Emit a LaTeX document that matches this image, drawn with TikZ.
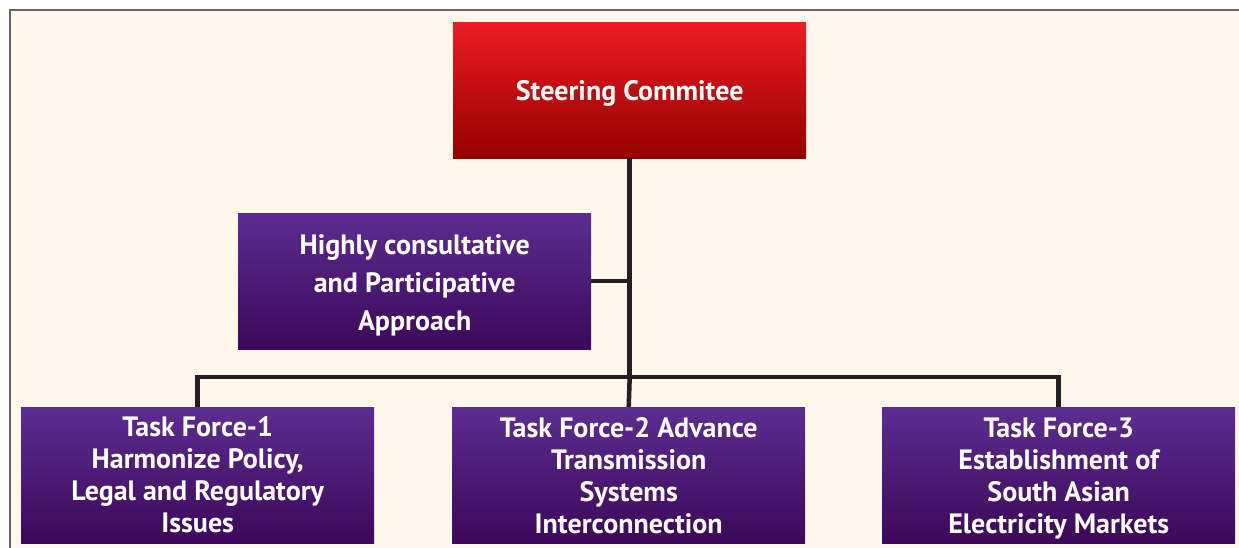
\documentclass[tikz,border=0pt]{standalone}
\usepackage{fontspec}
\setmainfont{PT Sans}
\definecolor{bgcream}{HTML}{FFF7EC}
\definecolor{framegray}{HTML}{666666}
\definecolor{redtop}{HTML}{EC1C24}
\definecolor{redbot}{HTML}{940000}
\definecolor{purtop}{HTML}{5C2D91}
\definecolor{purbot}{HTML}{3C0859}
\definecolor{linedark}{HTML}{231F20}
\newcommand{\strutH}[1]{\rule{0pt}{#1}}
\begin{document}
\begin{tikzpicture}[x=1pt,y=-1pt,
  box/.style={rectangle, minimum width=353pt, minimum height=136pt, inner sep=0pt,
    text=white, align=center, font=\fontsize{28}{32}\selectfont\bfseries, anchor=north west},
  redbox/.style={box, top color=redtop, bottom color=redbot},
  purbox/.style={box, top color=purtop, bottom color=purbot},
  conn/.style={draw=linedark, line width=4.5pt}]
\useasboundingbox (0,0) rectangle (1239,548);
\fill[white] (0,0) rectangle (1239,548);
\fill[bgcream] (10,10) rectangle (1239,548);
\draw[framegray, line width=2pt] (10,548) -- (10,10) -- (1239,10);
\node[redbox] (sc) at (453,22) {\strutH{27pt}Steering Commitee};
\node[purbox, font=\fontsize{28}{38}\selectfont\bfseries] (hc) at (238,213) {\strutH{29pt}Highly consultative\\and Participative\\Approach};
\node[purbox] (tf1) at (21,407) {Task Force-1\\Harmonize Policy,\\Legal and Regulatory\\Issues};
\node[purbox] (tf2) at (452,407) {Task Force-2 Advance\\Transmission\\Systems\\Interconnection};
\node[purbox] (tf3) at (882,407) {\strutH{27pt}Task Force-3\\Establishment of\\South Asian\\Electricity Markets};
\coordinate (j) at (sc.south |- 0,377);
\coordinate (jh) at (sc.south |- hc.east);
\draw[conn] (sc.south) -- (j);
\draw[conn] (hc.east) -- (jh);
\draw[conn] (tf1.north) -- (tf1.north |- j) -- (tf3.north |- j) -- (tf3.north);
\draw[conn] (j) -- (tf2.north);
\end{tikzpicture}
\end{document}
